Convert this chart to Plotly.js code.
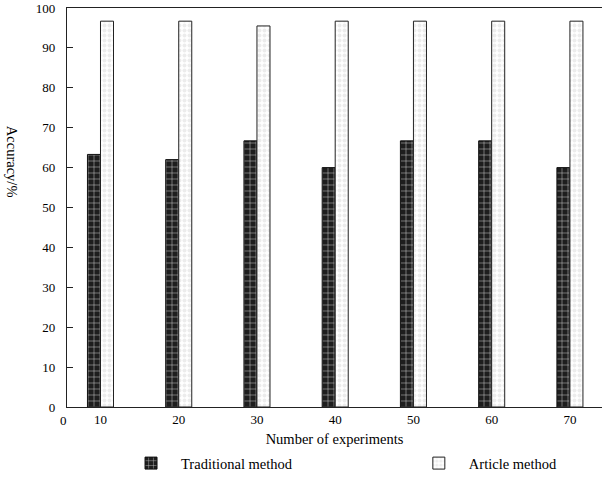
<!DOCTYPE html>
<html>
<head>
<meta charset="utf-8">
<script src="https://cdn.plot.ly/plotly-3.0.1.min.js"></script>
<style>html,body{margin:0;padding:0;background:#fff;}#chart{width:603px;height:478px;}</style>
</head>
<body>
<div id="chart"></div>
<script>
var categories = [10, 20, 30, 40, 50, 60, 70];
var tickLabels = ['10', '20', '30', '40', '50', '60', '70'];
var traditional = [63.3, 62.0, 66.7, 60.0, 66.7, 66.7, 60.0];
var article = [96.7, 96.7, 95.5, 96.7, 96.7, 96.7, 96.7];
var yTicks = [0, 10, 20, 30, 40, 50, 60, 70, 80, 90, 100];

var fam = 'Liberation Serif, Times New Roman, serif';
var tickFont = {family: fam, size: 13, color: '#000'};
var titleFont = {family: fam, size: 14.5, color: '#000'};

var traces = [
  {
    type: 'bar', name: 'Traditional method', x: categories, y: traditional, legend: 'legend',
    marker: {color: '#1e1e1e', line: {color: '#111', width: 1},
      pattern: {shape: '+', bgcolor: '#1e1e1e', fgcolor: '#d8d8d8', size: 6, solidity: 0.15}}
  },
  {
    type: 'bar', name: 'Article method', x: categories, y: article, legend: 'legend2',
    marker: {color: '#ffffff', line: {color: '#222', width: 1},
      pattern: {shape: '.', bgcolor: '#ffffff', fgcolor: '#ececec', size: 5, solidity: 0.5}}
  }
];

var legendBase = {orientation: 'h', xref: 'container', yref: 'container', y: 0.031,
  xanchor: 'left', yanchor: 'middle', font: titleFont, itemwidth: 50, bgcolor: 'rgba(0,0,0,0)'};

var layout = {
  width: 603, height: 478,
  margin: {l: 67, r: 1, t: 8, b: 71},
  paper_bgcolor: '#fff', plot_bgcolor: '#fff',
  font: tickFont,
  barmode: 'group', bargap: 0.667, bargroupgap: 0,
  showlegend: true,
  legend: Object.assign({}, legendBase, {x: 0.2007}),
  legend2: Object.assign({}, legendBase, {x: 0.678}),
  xaxis: {
    range: [5.72, 74.1], tickvals: categories, ticktext: tickLabels,
    showgrid: false, zeroline: false, showline: true, linecolor: '#222', linewidth: 1.2,
    mirror: true, ticks: '', ticklabelstandoff: 0, tickfont: tickFont,
    title: {text: 'Number of experiments', font: titleFont, standoff: 12}
  },
  yaxis: {
    range: [0, 100], tickvals: yTicks, showgrid: false, zeroline: false,
    showline: true, linecolor: '#222', linewidth: 1.2, ticks: 'inside', ticklen: 6,
    tickcolor: '#222', ticklabelstandoff: 8, tickfont: tickFont
  },
  annotations: [
    {text: '0', xref: 'paper', yref: 'paper', x: 0, y: 0, xshift: -4, yshift: -13,
      showarrow: false, font: tickFont, xanchor: 'center', yanchor: 'middle'},
    {text: 'Accuracy/%', xref: 'paper', yref: 'paper', x: 0, y: 0.6145, xshift: -55,
      textangle: 90, showarrow: false, font: titleFont, xanchor: 'center', yanchor: 'middle'}
  ]
};

Plotly.newPlot('chart', traces, layout, {displayModeBar: false, staticPlot: true});
</script>
</body>
</html>
